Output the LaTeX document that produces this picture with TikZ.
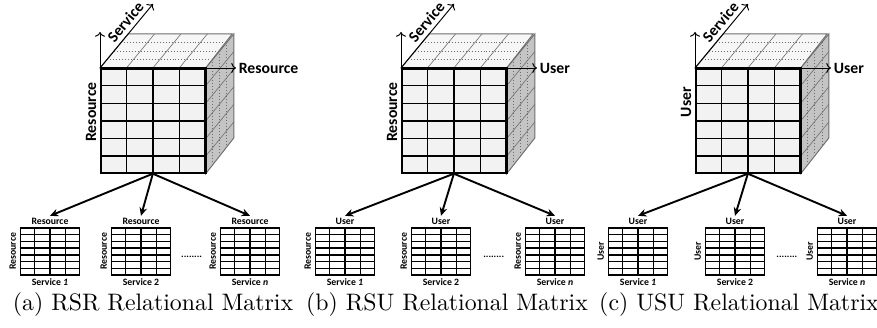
\documentclass[tikz,border=0pt]{standalone}
\usepackage{fontspec}
\newfontfamily\lblfont{Carlito}
\usepackage{xcolor}
\definecolor{facefront}{RGB}{242,242,242}
\definecolor{facetop}{RGB}{246,246,246}
\definecolor{faceside}{RGB}{196,196,196}
\definecolor{gridgray}{RGB}{110,110,110}
\usetikzlibrary{arrows.meta,positioning,calc}

\begin{document}
\begin{tikzpicture}[
  x=0.42pt, y=-0.42pt,
  front/.style={draw, fill=facefront, line width=0.7pt, minimum width=43.7pt, minimum height=43.7pt, inner sep=0pt, anchor=north west},
  minimat/.style={draw, line width=0.5pt, minimum width=25pt, minimum height=19.7pt, inner sep=0pt},
  axislbl/.style={font=\lblfont\bfseries\fontsize{6.6}{7}\selectfont, inner sep=1pt},
  minilbl/.style={font=\lblfont\bfseries\fontsize{4.1}{5}\selectfont, inner sep=0.6pt},
  captext/.style={font=\normalsize, inner sep=0pt},
  axisarrow/.style={-{To[length=2pt]}, line width=0.4pt},
  arrow/.style={-{Stealth[length=3.5pt, width=3.2pt]}, line width=0.8pt},
  face/.style={draw=gridgray, line width=0.4pt},
  thingrid/.style={gridgray, line width=0.25pt}
]
\useasboundingbox (0,0) rectangle (877,328);

\foreach \p/\lx/\ly/\xlab/\ylab/\ma/\mb/\mc/\cx/\ctext in {
  a/100/112/Resource/Resource/50/141/250/153/{(a) RSR Relational Matrix},
  b/401/112/User/Resource/345/441/555/447/{(b) RSU Relational Matrix},
  c/695/102/User/User/638/735/847/739/{(c) USU Relational Matrix}}{
  % cube: front, top and side faces
  \node[front] (\p f) at (\lx,68) {};
  \draw[face, fill=facetop] (\p f.north west) -- ++(11.8pt,14.3pt) -- ++(43.7pt,0pt) -- (\p f.north east) -- cycle;
  \draw[face, fill=faceside] (\p f.north east) -- ++(11.8pt,14.3pt) -- ++(0pt,-43.7pt) -- (\p f.south east) -- cycle;
  \foreach \i in {1,2,3} {
    \draw[line width=0.6pt] ($(\p f.north west)!\i/4!(\p f.north east)$) -- ($(\p f.south west)!\i/4!(\p f.south east)$);
    \draw[thingrid] ($(\p f.north west)!\i/4!(\p f.north east)$) -- ++(11.8pt,14.3pt);
    \draw[thingrid, densely dotted] ($(\p f.north west)+(\i*2.95pt,\i*3.575pt)$) -- ++(43.7pt,0pt);
    \draw[thingrid, densely dotted] ($(\p f.north east)+(\i*2.95pt,\i*3.575pt)$) -- ++(0pt,-43.7pt);
  }
  \foreach \i in {1,...,5} {
    \draw[line width=0.6pt] ($(\p f.north west)!\i/6!(\p f.south west)$) -- ($(\p f.north east)!\i/6!(\p f.south east)$);
    \draw[thingrid] ($(\p f.north east)!\i/6!(\p f.south east)$) -- ++(11.8pt,14.3pt);
  }
  \draw[line width=0.7pt] (\p f.north west) -- (\p f.north east) -- (\p f.south east);
  % axes
  \coordinate (\p up) at (\lx,32);
  \coordinate (\p sv) at (\lx+53,4);
  \coordinate (\p rt) at (\lx+136,68);
  \draw[axisarrow] (\p f.north west) -- (\p up);
  \draw[axisarrow] (\p f.north west) -- node[axislbl, sloped, above, pos=0.62, inner sep=1.5pt] (\p svl) {Service} (\p sv);
  \draw[axisarrow] (\p f.north east) -- (\p rt) node[axislbl, right] (\p xl) {\xlab};
  \node[axislbl, rotate=90] (\p yl) at (\lx-9,\ly) {\ylab};
  % slices
  \foreach \m/\mx/\n in {1/\ma/{\textit{1}}, 2/\mb/2, 3/\mc/{\textit{n}}} {
    \node[minimat] (\p\m) at (\mx,251.5) {};
    \foreach \i in {1,2,3}
      \draw[line width=0.5pt] ($(\p\m.north west)!\i/4!(\p\m.north east)$) -- ($(\p\m.south west)!\i/4!(\p\m.south east)$);
    \foreach \i in {1,...,6}
      \draw[line width=0.5pt] ($(\p\m.north west)!\i/7!(\p\m.south west)$) -- ($(\p\m.north east)!\i/7!(\p\m.south east)$);
    \node[minilbl, above=0.6pt of \p\m] (\p\m t) {\xlab};
    \node[minilbl, below=0.3pt of \p\m] (\p\m b) {Service \n};
    \node[minilbl, rotate=90, anchor=south] (\p\m s) at ([xshift=-0.8pt]\p\m.west) {\ylab};
    \draw[arrow] (\p f.south) -- (\p\m t.north);
  }
  \node[minilbl] (\p dots) at ($(\p2.east)!0.42!(\p3.west)+(0,5)$) {........};
  \node[captext] (\p cap) at (\cx,305) {\ctext};
}
\end{tikzpicture}
\end{document}
